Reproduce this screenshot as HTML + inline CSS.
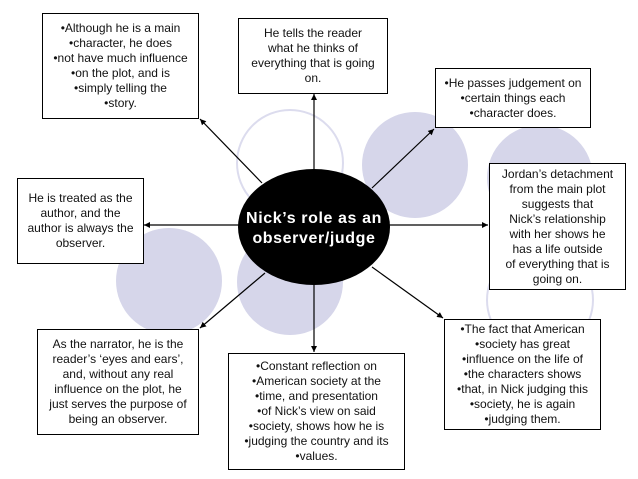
<!DOCTYPE html>
<html><head><style>
body{margin:0;background:#fff;}
.c{position:relative;width:638px;height:479px;overflow:hidden;font-family:"Liberation Sans",Arial,sans-serif;}
.b{position:absolute;border:1.3px solid #000;background:#fff;box-sizing:border-box;font-size:12px;line-height:15px;text-align:center;color:#111;display:flex;align-items:center;justify-content:center;white-space:nowrap;}
svg{position:absolute;left:0;top:0;}
</style></head><body><div class="c">
<svg width="638" height="479">
<defs><marker id="a" markerWidth="6" markerHeight="6" refX="5" refY="3" orient="auto"><path d="M0,0.5 L5,3 L0,5.5z" fill="#000"/></marker></defs>
<circle cx="290" cy="163" r="53" fill="none" stroke="#dcdcee" stroke-width="2"/>
<circle cx="415" cy="165" r="53" fill="#d6d6ea"/>
<circle cx="540" cy="178" r="53" fill="#d6d6ea"/>
<circle cx="540" cy="300" r="53" fill="none" stroke="#dcdcee" stroke-width="2"/>
<circle cx="169" cy="281" r="53" fill="#d6d6ea"/>
<circle cx="290" cy="282" r="53" fill="#d6d6ea"/>
<g stroke="#000" stroke-width="1.2" marker-end="url(#a)">
<line x1="314" y1="170" x2="314" y2="94"/>
<line x1="388" y1="225" x2="488" y2="225"/>
<line x1="240" y1="225" x2="144" y2="225"/>
<line x1="262" y1="183" x2="200" y2="119"/>
<line x1="372" y1="188" x2="434" y2="129"/>
<line x1="265" y1="273" x2="200" y2="328"/>
<line x1="314" y1="284" x2="314" y2="352"/>
<line x1="372" y1="267" x2="443" y2="318"/>
</g>
<ellipse cx="314" cy="227" rx="76" ry="58" fill="#000"/>
<text x="314" y="223" fill="#fff" font-family="Liberation Sans,Arial,sans-serif" font-weight="bold" font-size="16" text-anchor="middle" letter-spacing="0.6">Nick’s role as an</text>
<text x="314" y="243" fill="#fff" font-family="Liberation Sans,Arial,sans-serif" font-weight="bold" font-size="16" text-anchor="middle" letter-spacing="0.6">observer/judge</text>
</svg>
<div class="b" style="left:42px;top:13px;width:157px;height:106px">•Although he is a main<br>•character, he does<br>•not have much influence<br>•on the plot, and is<br>•simply telling the<br>•story.</div>
<div class="b" style="left:238px;top:18px;width:150px;height:76px">He tells the reader<br>what he thinks of<br>everything that is going<br>on.</div>
<div class="b" style="left:435px;top:68px;width:156px;height:60px">•He passes judgement on<br>•certain things each<br>•character does.</div>
<div class="b" style="left:17px;top:178px;width:127px;height:86px">He is treated as the<br>author, and the<br>author is always the<br>observer.</div>
<div class="b" style="left:489px;top:163px;width:137px;height:127px">Jordan’s detachment<br>from the main plot<br>suggests that<br>Nick’s relationship<br>with her shows he<br>has a life outside<br>of everything that is<br>going on.</div>
<div class="b" style="left:37px;top:329px;width:162px;height:106px">As the narrator, he is the<br>reader’s ‘eyes and ears’,<br>and, without any real<br>influence on the plot, he<br>just serves the purpose of<br>being an observer.</div>
<div class="b" style="left:228px;top:353px;width:177px;height:117px">•Constant reflection on<br>•American society at the<br>•time, and presentation<br>•of Nick’s view on said<br>•society, shows how he is<br>•judging the country and its<br>•values.</div>
<div class="b" style="left:444px;top:319px;width:157px;height:111px">•The fact that American<br>•society has great<br>•influence on the life of<br>•the characters shows<br>•that, in Nick judging this<br>•society, he is again<br>•judging them.</div>
</div></body></html>
